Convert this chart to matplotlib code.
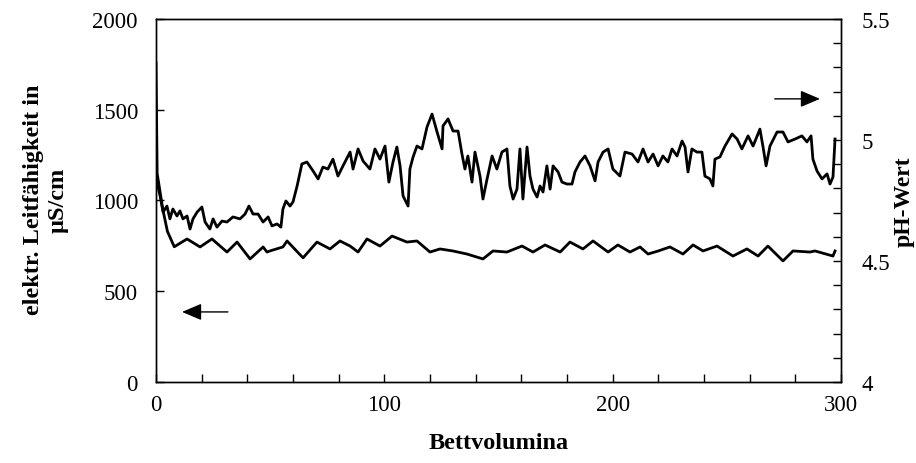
import matplotlib
matplotlib.use('Agg')
import matplotlib.pyplot as plt
from matplotlib.ticker import MultipleLocator, FixedLocator

plt.rcParams['font.family'] = ['Liberation Serif', 'DejaVu Serif']

# elektr. Leitfaehigkeit (linke Achse)
cond_bv = [0, 0.5, 3, 5, 8, 13.6, 19.3, 24.5, 31.1, 35.5, 41.2, 46.9, 48.6, 49.9, 55.6,
           57.4, 64.4, 70.5, 76.2, 80.6, 85, 88.5, 92.4, 98.1, 103.4, 109.9, 114.3, 120,
           124.4, 130, 136.2, 143.2, 147.6, 153.7, 160.3, 165.1, 170.4, 177, 181.3, 187,
           191.4, 198, 202.3, 207.6, 212, 215.5, 220, 225.1, 230.8, 235.2, 239.6, 245.7,
           252.7, 258.8, 263.7, 268, 274.6, 279, 286.4, 288.6, 296.5, 297.4]
cond = [1760, 1150, 950, 830, 745, 788, 744, 788, 716, 771, 678, 744, 716, 722, 744,
        777, 684, 771, 733, 777, 749, 716, 788, 749, 804, 771, 777, 716,
        733, 722, 705, 678, 722, 716, 749, 716, 755, 716, 771, 733,
        777, 716, 755, 716, 744, 705, 722, 744, 705, 755, 722, 749,
        694, 733, 694, 749, 667, 722, 716, 722, 694, 722]

# pH-Wert (rechte Achse)
ph_bv = [0, 0.4, 1.8, 3.1, 4.8, 6.1, 7.4, 9.2, 10.5, 11.8, 13.6, 14.9, 16.2, 18.0, 20.1,
         21.5, 23.6, 25.0, 26.7, 28.9, 31.1, 33.7, 36.8, 39.0, 40.7, 42.5, 44.7, 46.9,
         49.1, 50.8, 53.0, 54.7, 55.6, 56.9, 58.7, 60.0, 61.8, 63.9, 66.1, 68.8, 71.0,
         73.1, 75.3, 77.5, 79.7, 81.9, 85.0, 86.3, 88.5, 90.7, 93.7, 95.9, 98.1, 100.3,
         102.0, 103.8, 105.5, 106.9, 108.2, 110.4, 111.2, 112.6, 114.3, 116.5, 118.7,
         120.9, 123.1, 125.3, 125.7, 127.9, 130.1, 132.3, 134.0, 135.3, 136.6, 138.4,
         139.7, 141.9, 143.2, 145.0, 147.2, 149.3, 151.5, 153.7, 155.0, 156.4, 158.1,
         159.4, 160.7, 162.5, 163.8, 165.1, 166.9, 168.2, 169.5, 171.2, 172.6, 173.9,
         176.1, 177.8, 180.0, 182.2, 183.5, 185.7, 187.9, 190.1, 192.3, 193.6, 195.8,
         198.0, 200.1, 203.2, 205.4, 208.5, 211.1, 213.3, 215.5, 217.7, 219.9, 222.0,
         224.2, 226.0, 228.2, 230.4, 231.7, 233.0, 234.7, 236.9, 239.1, 240.4, 242.6,
         243.9, 244.8, 247.0, 249.2, 252.3, 254.5, 256.6, 259.3, 261.5, 264.5, 265.8,
         267.2, 268.9, 272.0, 274.6, 276.8, 279.9, 282.9, 285.1, 286.9, 287.7, 289.5,
         291.7, 293.9, 295.2, 296.5, 297.4]
ph = [4.83, 4.826, 4.769, 4.702, 4.727, 4.674, 4.715, 4.686, 4.707, 4.674, 4.686, 4.632,
      4.674, 4.702, 4.723, 4.661, 4.632, 4.674, 4.640, 4.665, 4.661, 4.682, 4.674, 4.694,
      4.727, 4.694, 4.694, 4.661, 4.682, 4.645, 4.653, 4.640, 4.715, 4.748, 4.727, 4.744,
      4.810, 4.901, 4.909, 4.872, 4.839, 4.888, 4.880, 4.921, 4.851, 4.893, 4.950, 4.880,
      4.963, 4.913, 4.880, 4.963, 4.921, 4.975, 4.826, 4.909, 4.971, 4.893, 4.769, 4.727,
      4.880, 4.930, 4.975, 4.963, 5.054, 5.107, 5.033, 4.963, 5.058, 5.087, 5.037, 5.037,
      4.942, 4.880, 4.934, 4.826, 4.950, 4.851, 4.756, 4.839, 4.934, 4.880, 4.950, 4.963,
      4.810, 4.756, 4.797, 4.963, 4.756, 4.971, 4.851, 4.797, 4.764, 4.810, 4.785, 4.893,
      4.797, 4.893, 4.868, 4.826, 4.818, 4.818, 4.868, 4.909, 4.934, 4.893, 4.831, 4.909,
      4.950, 4.963, 4.880, 4.851, 4.950, 4.942, 4.909, 4.963, 4.909, 4.942, 4.893, 4.934,
      4.909, 4.963, 4.934, 4.996, 4.971, 4.868, 4.963, 4.950, 4.950, 4.851, 4.839, 4.810,
      4.921, 4.930, 4.975, 5.025, 5.004, 4.963, 5.017, 4.975, 5.045, 4.975, 4.893, 4.975,
      5.033, 5.033, 4.992, 5.004, 5.017, 4.992, 5.017, 4.921, 4.872, 4.839, 4.860, 4.818,
      4.847, 5.004]

x_ticks = [0, 100, 200, 300]
cond_ticks = [0, 500, 1000, 1500, 2000]
ph_ticks = [4, 4.5, 5, 5.5]
ph_labels = ['4', '4.5', '5', '5.5']

fig = plt.figure(figsize=(9.16, 4.64), dpi=100)
ax = fig.add_axes([0.1703, 0.1746, 0.7478, 0.7823])
ax2 = ax.twinx()

ax.plot(cond_bv, cond, color='black', lw=2.0)
ax2.plot(ph_bv, ph, color='black', lw=2.0)

ax.set_xlim(0, 300)
ax.set_ylim(0, 2000)
ax2.set_ylim(4, 5.5)

ax.xaxis.set_major_locator(FixedLocator(x_ticks))
ax.xaxis.set_minor_locator(MultipleLocator(20))
ax.yaxis.set_major_locator(FixedLocator(cond_ticks))
ax2.yaxis.set_major_locator(FixedLocator(ph_ticks))
ax2.yaxis.set_minor_locator(MultipleLocator(0.1))
ax2.set_yticklabels(ph_labels)

ax.tick_params(axis='x', which='both', direction='in', length=6, width=1, pad=9,
               labelsize=16.5, top=False)
ax.tick_params(axis='y', which='both', direction='in', length=6, width=1, pad=13,
               labelsize=16.5, right=False)
ax2.tick_params(axis='y', which='both', direction='in', length=6, width=1, pad=15,
                labelsize=16.5)

for a in (ax, ax2):
    for s in a.spines.values():
        s.set_linewidth(1.0)
        s.set_color('black')

ax.set_xlabel('Bettvolumina', fontsize=17.5, fontweight='bold', labelpad=12)
fig.text(0.050, 0.569, 'elektr. Leitfähigkeit in\nµS/cm', rotation=90,
         ha='center', va='center', fontsize=17.5, fontweight='bold',
         multialignment='center', linespacing=1.25)
ax2.set_ylabel('pH-Wert', fontsize=17, fontweight='bold', labelpad=2)

# Pfeile: welche Kurve gehoert zu welcher Achse
ax.annotate('', xy=(11.4, 386), xytext=(31.5, 386),
            arrowprops=dict(arrowstyle='-|>,head_length=0.4,head_width=0.17',
                            mutation_scale=30, lw=1, color='black',
                            shrinkA=0, shrinkB=0))
ax.annotate('', xy=(290.8, 1560), xytext=(271, 1560),
            arrowprops=dict(arrowstyle='-|>,head_length=0.4,head_width=0.17',
                            mutation_scale=30, lw=1, color='black',
                            shrinkA=0, shrinkB=0))

fig.savefig('out.png', dpi=100)
